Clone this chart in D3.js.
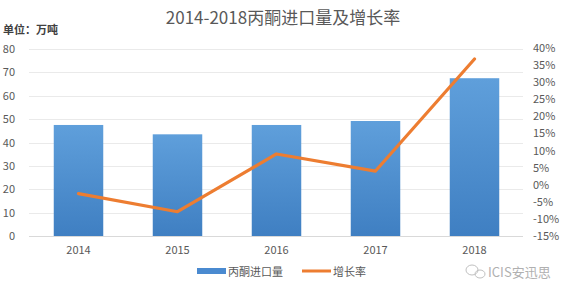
<!DOCTYPE html>
<html><head><meta charset="utf-8">
<script src="https://cdn.jsdelivr.net/npm/d3@7"></script>
<style>body{margin:0;background:#fff}svg{display:block}</style>
</head><body><svg id="c" width="567" height="289"></svg>
<script>
const years = ["2014","2015","2016","2017","2018"];
const imports = [47.5, 43.5, 47.5, 49.2, 67.5];
const growth = [-2.6, -7.9, 9.0, 4.0, 36.8];
const leftTicks = [0,10,20,30,40,50,60,70,80];
const rightTicks = [-15,-10,-5,0,5,10,15,20,25,30,35,40];

const svg = d3.select("#c");
const font = "'Microsoft YaHei','Noto Sans CJK SC','DejaVu Sans',sans-serif";
const x = d3.scaleBand().domain(years).range([29,524]).paddingInner(0.5).paddingOuter(0.25);
const y = d3.scaleLinear().domain([0,80]).range([236,49]);
const y2 = d3.scaleLinear().domain([-15,40]).range([236,48]);

const defs = svg.append("defs");
const g = defs.append("linearGradient").attr("id","bg").attr("x1",0).attr("x2",0).attr("y1",0).attr("y2",1);
g.append("stop").attr("offset","0%").attr("stop-color","#5f9fdb");
g.append("stop").attr("offset","100%").attr("stop-color","#3f7fc2");

// grid
svg.append("g").selectAll("line").data(leftTicks).join("line")
  .attr("x1",29).attr("x2",523).attr("y1",d=>Math.round(y(d))+0.5).attr("y2",d=>Math.round(y(d))+0.5)
  .attr("stroke",d=>d===0?"#d9d9d9":"#eaeaea").attr("stroke-width",1);

// left axis
const la = svg.append("g").attr("transform","translate(15,0)")
  .call(d3.axisLeft(y).tickValues(leftTicks).tickSize(0).tickPadding(0));
la.select(".domain").remove();
la.selectAll("text").attr("fill","#595959").style("font-size","11px").style("font-family",font);

// right axis
const ra = svg.append("g").attr("transform","translate(533,0)")
  .call(d3.axisRight(y2).tickValues(rightTicks).tickSize(0).tickPadding(0).tickFormat(d=>d+"%"));
ra.select(".domain").remove();
ra.selectAll("text").attr("fill","#595959").style("font-size","11px").style("font-family",font);

// bars
svg.append("g").selectAll("rect").data(imports).join("rect")
  .attr("x",(d,i)=>x(years[i])).attr("width",x.bandwidth())
  .attr("y",d=>y(d)).attr("height",d=>y(0)-y(d)).attr("fill","url(#bg)");

// x labels
const xa = svg.append("g").attr("transform","translate(0,246)")
  .call(d3.axisBottom(x).tickSize(0).tickPadding(0));
xa.select(".domain").remove();
xa.selectAll("text").attr("fill","#595959").style("font-size","11px").style("font-family",font);

// line
svg.append("path").datum(growth)
  .attr("d",d3.line().x((d,i)=>x(years[i])+x.bandwidth()/2).y(d=>y2(d)))
  .attr("fill","none").attr("stroke","#ed7d31").attr("stroke-width",3.2).attr("stroke-linecap","round").attr("stroke-linejoin","round");

// title
svg.append("text").attr("x",283).attr("y",24).attr("text-anchor","middle")
  .attr("fill","#595959").style("font-size","17px").style("font-family",font).text("2014-2018丙酮进口量及增长率");
svg.append("text").attr("x",3).attr("y",34)
  .attr("fill","#404040").style("font-size","11px").style("font-weight","bold").style("font-family",font).text("单位：万吨");

// legend
svg.append("rect").attr("x",197).attr("y",268).attr("width",29).attr("height",6).attr("fill","#4a8ad0");
svg.append("text").attr("x",228).attr("y",276).attr("fill","#595959").style("font-size","11px").style("font-family",font).text("丙酮进口量");
svg.append("line").attr("x1",302).attr("x2",331).attr("y1",271).attr("y2",271).attr("stroke","#ed7d31").attr("stroke-width",3);
svg.append("text").attr("x",333).attr("y",276).attr("fill","#595959").style("font-size","11px").style("font-family",font).text("增长率");

// watermark
svg.append("text").attr("x",488).attr("y",277).attr("fill","#b0b0b0").style("font-size","13px").style("font-family",font).text("ICIS安迅思");
const wm = svg.append("g").attr("fill","none").attr("stroke","#c0c0c0").attr("stroke-width",1);
wm.append("ellipse").attr("cx",472).attr("cy",270).attr("rx",6).attr("ry",5);
wm.append("ellipse").attr("cx",480).attr("cy",274).attr("rx",5).attr("ry",4);
</script></body></html>
